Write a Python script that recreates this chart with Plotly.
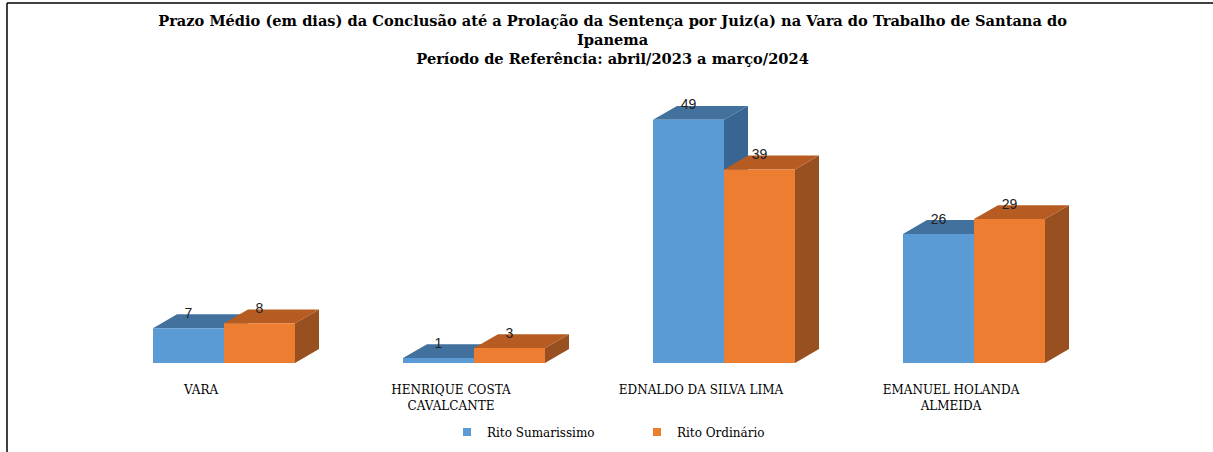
import plotly.graph_objects as go

categories = ["VARA", "HENRIQUE COSTA<br>CAVALCANTE", "EDNALDO DA SILVA LIMA", "EMANUEL HOLANDA<br>ALMEIDA"]
sumarissimo = [7, 1, 49, 26]
ordinario = [8, 3, 39, 29]
series_names = ["Rito Sumarissimo", "Rito Ordinário"]

title_text = ("<b>Prazo Médio (em dias) da Conclusão até a Prolação da Sentença por Juiz(a) na Vara do Trabalho de Santana do<br>"
              "Ipanema<br>Período de Referência: abril/2023 a março/2024</b>")

W = 0.284   # bar width (category units)
DX = 0.096  # depth offset x
DY = 2.8    # depth offset y

styles = [
    dict(front="#5B9BD5", top="#41719C", side="#386591", off=-W),
    dict(front="#ED7D31", top="#B65C22", side="#985021", off=0.0),
]

fig = go.Figure()

def poly_trace(xs, ys, color):
    return go.Scatter(x=xs, y=ys, mode="lines", fill="toself", fillcolor=color,
                      line=dict(width=0, color=color), hoverinfo="skip", showlegend=False)

label_x, label_y, label_t = [], [], []
for s_idx, values in enumerate([sumarissimo, ordinario]):
    st = styles[s_idx]
    for i, v in enumerate(values):
        x0 = i + st["off"]
        x1 = x0 + W
        # side face
        fig.add_trace(poly_trace([x1, x1 + DX, x1 + DX, x1, x1], [0, DY, v + DY, v, 0], st["side"]))
        # top face
        fig.add_trace(poly_trace([x0, x1, x1 + DX, x0 + DX, x0], [v, v, v + DY, v + DY, v], st["top"]))
        # front face
        fig.add_trace(poly_trace([x0, x1, x1, x0, x0], [0, 0, v, v, 0], st["front"]))
        label_x.append(x0 + W / 2)
        label_y.append(v + DY)
        label_t.append(str(v))

fig.add_trace(go.Scatter(x=label_x, y=label_y, text=label_t, mode="text",
                         textposition="middle center",
                         textfont=dict(family="Liberation Sans", size=14, color="#222222"),
                         hoverinfo="skip", showlegend=False))

for s_idx, name in enumerate(series_names):
    fig.add_trace(go.Scatter(x=[None], y=[None], mode="markers", name=name,
                             marker=dict(symbol="square", size=8, color=styles[s_idx]["front"])))

fig.update_layout(
    width=1213, height=452,
    margin=dict(l=99, r=114, t=90, b=89, autoexpand=False),
    plot_bgcolor="white", paper_bgcolor="white",
    title=dict(text=title_text, x=0.505, xanchor="center", y=0.942, yanchor="top",
               font=dict(family="DejaVu Serif", size=14.6, color="black")),
    xaxis=dict(range=[-0.5, 3.5], tickmode="array", tickvals=list(range(len(categories))),
               ticktext=categories, showgrid=False, zeroline=False, showline=False,
               ticks="", ticklabelshift=-23, ticklabelstandoff=18,
               tickfont=dict(family="DejaVu Serif", size=12, color="black")),
    yaxis=dict(range=[0, 55], visible=False, showgrid=False, zeroline=False),
    legend=dict(orientation="h", x=0.538, xanchor="center", y=-0.2, yanchor="top",
                font=dict(family="DejaVu Serif", size=12, color="black"),
                entrywidth=145, itemwidth=30),
    shapes=[
        dict(type="line", xref="paper", yref="paper", x0=-0.092, x1=1.2, y0=1.3187, y1=1.3187,
             line=dict(color="black", width=1.5)),
        dict(type="line", xref="paper", yref="paper", x0=-0.092, x1=-0.092, y0=1.3187, y1=-0.4,
             line=dict(color="black", width=1.5)),
    ],
)

fig.write_html("out.html", config={"displayModeBar": False},
               post_script="document.body.style.margin='0';")
